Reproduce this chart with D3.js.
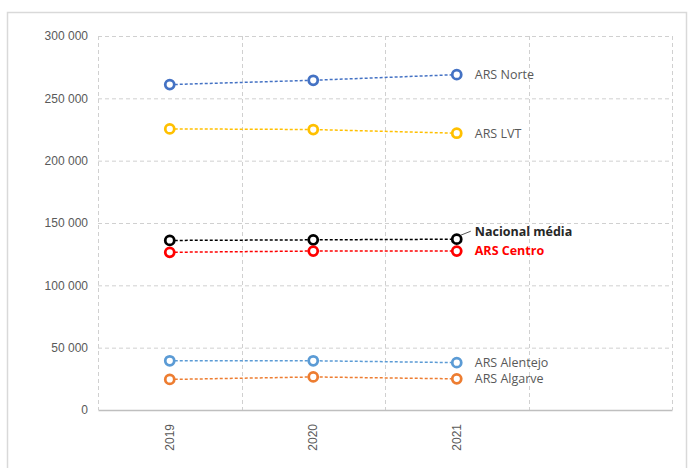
<!DOCTYPE html>
<html lang="pt">
<head>
  <meta charset="UTF-8" />
  <title>ARS - evolução 2019-2021</title>
  <script src="https://d3js.org/d3.v7.min.js"></script>
  <style>
    body {
      margin: 0;
      background: #fff;
      font-family: "Open Sans", "Liberation Sans", sans-serif;
    }
    .frame {
      fill: none;
      stroke: #d9d9d9;
      stroke-width: 1.5;
    }
    .grid line {
      stroke: #d0d0d0;
      stroke-dasharray: 4 3;
    }
    .tick text {
      fill: #595959;
      font-size: 12px;
    }
    .lbl {
      font-size: 12.5px;
      fill: #595959;
    }
  </style>
</head>
<body>

<svg id="chart" width="689" height="468"></svg>

<script>
/* ---------------- DATA ---------------- */

const years = ["2019", "2020", "2021", ""];

const norte    = [261000, 264500, 269000];
const lvt      = [225500, 225000, 222000];
const nacional = [136000, 136500, 137000];
const centro   = [126500, 127500, 127500];
const alentejo = [39500, 39500, 38000];
const algarve  = [24500, 26500, 25000];

const yTicks = [0, 50000, 100000, 150000, 200000, 250000, 300000];

const series = [
  { name: "ARS Norte",      values: norte,    color: "#4472c4" },
  { name: "ARS LVT",        values: lvt,      color: "#ffc000" },
  { name: "Nacional média", values: nacional, color: "#000000", bold: true, textColor: "#262626", dy: -8 },
  { name: "ARS Centro",     values: centro,   color: "#ff0000", bold: true, textColor: "#ff0000" },
  { name: "ARS Alentejo",   values: alentejo, color: "#5b9bd5" },
  { name: "ARS Algarve",    values: algarve,  color: "#ed7d31" }
];

/* ---------------- SETUP ---------------- */

const svg = d3.select("#chart");
const plot = { left: 98, right: 672, top: 36, bottom: 410 };

svg.append("rect")
  .attr("class", "frame")
  .attr("x", 7.5).attr("y", 12.5)
  .attr("width", 679).attr("height", 470);

const x = d3.scaleBand().domain(years).range([plot.left, plot.right]);
const y = d3.scaleLinear().domain([0, 300000]).range([plot.bottom, plot.top]);

const fmt = d => d3.format(",")(d).replace(/,/g, " ");

/* ---------------- GRID ---------------- */

svg.append("g")
  .attr("class", "grid")
  .selectAll("line")
  .data(yTicks.slice(1))
  .enter().append("line")
  .attr("x1", plot.left).attr("x2", plot.right)
  .attr("y1", d => y(d) + 0.5).attr("y2", d => y(d) + 0.5);

// band edges: left edge of each category plus the right end
const edges = years.map(d => x(d)).concat([plot.right]);

svg.append("g")
  .attr("class", "grid")
  .selectAll("line")
  .data(edges)
  .enter().append("line")
  .attr("x1", d => Math.round(d) + 0.5)
  .attr("x2", d => Math.round(d) + 0.5)
  .attr("y1", plot.top).attr("y2", plot.bottom);

/* ---------------- AXES ---------------- */

const yAxis = svg.append("g")
  .attr("transform", `translate(${plot.left},0)`)
  .call(d3.axisLeft(y).tickValues(yTicks).tickFormat(fmt).tickSize(0).tickPadding(10));
yAxis.select(".domain").remove();

const xAxis = svg.append("g")
  .attr("transform", `translate(0,${plot.bottom})`)
  .call(d3.axisBottom(x).tickSize(0).tickPadding(0));
xAxis.select(".domain").attr("stroke", "#bfbfbf").attr("stroke-width", 1.5);
xAxis.selectAll(".tick text")
  .attr("transform", "rotate(-90)")
  .attr("text-anchor", "end")
  .attr("x", -14)
  .attr("y", 0)
  .attr("dy", "0.35em");

/* ---------------- LINES ---------------- */

const line = d3.line()
  .x((d, i) => x(years[i]) + x.bandwidth() / 2)
  .y(d => y(d));

const g = svg.selectAll(".series")
  .data(series)
  .enter().append("g")
  .attr("class", "series");

g.append("path")
  .attr("d", d => line(d.values))
  .attr("fill", "none")
  .attr("stroke", d => d.color)
  .attr("stroke-width", 1.5)
  .attr("stroke-dasharray", "3 2");

g.selectAll("circle")
  .data(d => d.values.map((v, i) => ({ v, i, color: d.color })))
  .enter().append("circle")
  .attr("cx", d => x(years[d.i]) + x.bandwidth() / 2)
  .attr("cy", d => y(d.v))
  .attr("r", 4.5)
  .attr("fill", "#fff")
  .attr("stroke", d => d.color)
  .attr("stroke-width", 2.75);

/* ---------------- LABELS ---------------- */

const lastX = x(years[2]) + x.bandwidth() / 2;

g.append("text")
  .attr("class", "lbl")
  .attr("x", lastX + 18)
  .attr("y", d => y(d.values[2]) + (d.dy || 0))
  .attr("dy", "0.35em")
  .attr("font-weight", d => d.bold ? "bold" : null)
  .style("fill", d => d.textColor || "#595959")
  .text(d => d.name);

// leader line for Nacional média
svg.append("line")
  .attr("x1", lastX + 4).attr("y1", y(nacional[2]) - 4)
  .attr("x2", lastX + 14).attr("y2", y(nacional[2]) - 8)
  .attr("stroke", "#595959")
  .attr("stroke-width", 1);
</script>

</body>
</html>
